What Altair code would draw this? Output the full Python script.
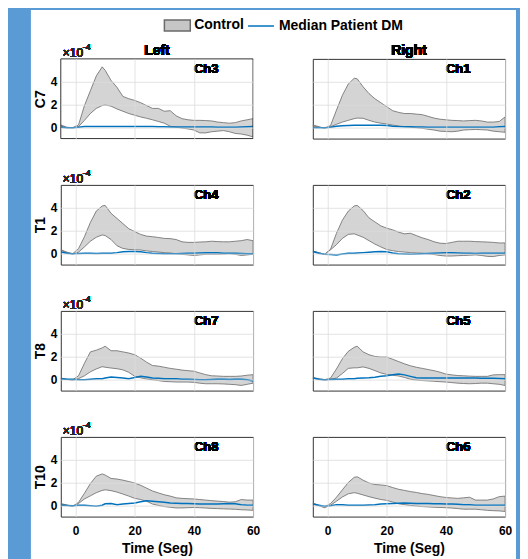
import altair as alt
import pandas as pd

# ---------------- data (values in units of 1e-4) ----------------
time = [-5, -3, -1, 1, 3, 5, 7, 9, 10, 12, 14, 16, 18, 20, 22, 24, 26, 28, 30,
        32, 34, 36, 38, 40, 42, 44, 46, 48, 50, 52, 54, 56, 58, 60]

rows = ["C7", "T1", "T8", "T10"]
sides = ["Left", "Right"]
channels = [["Ch3", "Ch1"], ["Ch4", "Ch2"], ["Ch7", "Ch5"], ["Ch8", "Ch6"]]
legend_labels = ["Control", "Median Patient DM"]
x_ticks = [0, 20, 40, 60]
y_ticks = [0, 2, 4]
x_title = "Time (Seg)"
exp_base = "×10"
exp_power = "-4"

ch3_upper = [0.2, 0.0, -0.05, 0.2, 1.9, 3.2, 4.5, 5.3, 5.0, 4.1, 3.5, 2.7, 2.5, 2.35, 2.15, 1.9, 1.65, 1.65, 1.4,
             1.45, 1.0, 0.75, 0.65, 0.6, 0.6, 0.58, 0.55, 0.45, 0.4, 0.35, 0.4, 0.55, 0.65, 0.75]
ch3_lower = [0.1, -0.05, -0.08, 0.05, 0.6, 1.2, 1.65, 1.9, 1.95, 1.85, 1.6, 1.4, 1.2, 1.05, 0.9, 0.78, 0.65, 0.5, 0.35,
             0.08, 0.0, -0.08, -0.15, -0.25, -0.5, -0.5, -0.4, -0.35, -0.3, -0.4, -0.55, -0.6, -0.7, -0.85]
ch3_median = [0.0, -0.05, -0.05, 0.0, 0.05, 0.05, 0.06, 0.06, 0.06, 0.06, 0.06, 0.06, 0.06, 0.06, 0.06, 0.05, 0.05, 0.04, 0.03,
              0.02, 0.02, 0.02, 0.02, 0.02, 0.02, 0.02, 0.02, 0.0, 0.0, 0.0, 0.0, 0.02, 0.04, 0.05]

ch1_upper = [0.2, 0.05, -0.1, 0.15, 1.5, 2.8, 3.8, 4.3, 4.25, 3.55, 2.95, 2.5, 2.15, 1.8, 1.45, 1.3, 1.2, 1.2, 1.15,
             1.1, 0.95, 0.8, 0.7, 0.65, 0.6, 0.58, 0.55, 0.58, 0.6, 0.55, 0.45, 0.45, 0.5, 0.9]
ch1_lower = [0.1, 0.0, -0.1, 0.05, 0.25, 0.45, 0.6, 0.75, 0.8, 0.78, 0.6, 0.45, 0.35, 0.28, 0.18, 0.1, 0.05, 0.0, -0.05,
             -0.1, -0.18, -0.25, -0.35, -0.38, -0.4, -0.35, -0.25, -0.22, -0.2, -0.22, -0.25, -0.35, -0.4, -0.45]
ch1_median = [-0.05, -0.05, -0.05, 0.0, 0.08, 0.12, 0.15, 0.17, 0.17, 0.17, 0.17, 0.17, 0.16, 0.15, 0.08, 0.05, 0.04, 0.03, 0.02,
              0.01, 0.0, 0.0, 0.0, 0.0, 0.0, 0.0, 0.0, 0.0, 0.0, 0.0, 0.0, 0.0, 0.03, 0.05]

ch4_upper = [0.3, 0.1, -0.05, 0.4, 1.45, 2.7, 3.7, 4.15, 4.2, 3.5, 3.05, 2.6, 2.15, 1.9, 1.65, 1.5, 1.45, 1.38, 1.3,
             1.28, 1.2, 1.0, 0.95, 0.95, 0.98, 1.0, 1.05, 1.02, 1.0, 1.0, 1.05, 1.1, 1.2, 1.1]
ch4_lower = [0.25, 0.05, -0.1, 0.1, 0.55, 1.05, 1.4, 1.6, 1.55, 1.2, 0.65, 0.42, 0.33, 0.3, 0.28, 0.2, 0.15, 0.1, 0.05,
             0.02, -0.05, -0.1, -0.15, -0.2, -0.15, -0.1, -0.1, -0.1, -0.08, -0.05, -0.1, -0.2, -0.15, -0.1]
ch4_median = [0.1, 0.0, -0.05, -0.02, 0.0, 0.0, -0.02, 0.0, 0.0, 0.0, 0.05, 0.12, 0.15, 0.15, 0.12, 0.05, 0.0, -0.02, -0.05,
              -0.05, -0.05, -0.03, 0.0, 0.0, 0.02, 0.03, 0.05, 0.03, 0.0, 0.0, 0.0, -0.02, -0.05, -0.05]

ch2_upper = [0.2, 0.05, -0.1, 0.35, 1.75, 2.9, 3.7, 4.15, 4.2, 3.75, 3.1, 2.75, 2.4, 2.2, 2.05, 1.85, 1.7, 1.75, 1.55,
             1.35, 1.2, 1.0, 0.88, 0.85, 0.95, 1.05, 1.05, 1.05, 1.02, 1.0, 0.98, 0.95, 0.9, 0.9]
ch2_lower = [0.15, 0.02, -0.1, 0.3, 0.75, 1.3, 1.65, 1.7, 1.6, 1.4, 1.1, 0.8, 0.55, 0.32, 0.22, 0.14, 0.1, 0.05, 0.02,
             0.0, -0.05, -0.12, -0.2, -0.25, -0.25, -0.22, -0.2, -0.18, -0.15, -0.2, -0.28, -0.3, -0.2, -0.15]
ch2_median = [0.15, 0.0, -0.1, -0.12, -0.15, -0.08, 0.0, 0.0, 0.02, 0.05, 0.08, 0.12, 0.15, 0.12, 0.02, -0.05, -0.08, -0.1, -0.08,
              -0.05, -0.02, 0.0, 0.02, 0.03, 0.03, 0.02, 0.0, 0.0, -0.02, 0.0, 0.0, 0.0, 0.0, 0.0]

ch7_upper = [0.1, 0.0, -0.05, 0.3, 1.4, 2.4, 2.55, 2.75, 2.9, 2.5, 2.5, 2.4, 2.3, 2.15, 1.85, 1.5, 1.2, 1.15, 1.05,
             0.95, 0.88, 0.8, 0.75, 0.7, 0.55, 0.4, 0.3, 0.28, 0.25, 0.25, 0.25, 0.28, 0.35, 0.4]
ch7_lower = [0.05, -0.02, -0.1, 0.05, 0.3, 0.65, 0.9, 1.1, 1.05, 0.98, 0.92, 0.82, 0.6, 0.25, 0.12, 0.02, -0.05, -0.12, -0.2,
             -0.22, -0.25, -0.25, -0.25, -0.28, -0.35, -0.4, -0.4, -0.4, -0.42, -0.45, -0.48, -0.55, -0.45, -0.35]
ch7_median = [0.05, 0.0, 0.0, -0.05, -0.05, 0.0, 0.03, 0.05, 0.1, 0.2, 0.15, 0.1, 0.05, 0.15, 0.25, 0.2, 0.1, 0.08, 0.05,
              0.05, 0.03, 0.0, 0.0, -0.02, -0.05, -0.05, -0.02, 0.0, 0.0, -0.02, 0.0, 0.0, -0.05, -0.15]

ch5_upper = [0.15, 0.05, -0.05, 0.1, 0.9, 1.8, 2.45, 2.8, 2.9, 2.4, 2.15, 2.0, 1.95, 1.95, 1.75, 1.55, 1.35, 1.18, 1.05,
             0.95, 0.85, 0.75, 0.62, 0.45, 0.38, 0.32, 0.3, 0.27, 0.25, 0.25, 0.25, 0.38, 0.4, 0.4]
ch5_lower = [0.1, 0.0, -0.1, 0.0, 0.1, 0.5, 0.95, 1.0, 1.0, 1.08, 0.95, 0.75, 0.55, 0.42, 0.35, 0.28, 0.15, 0.0, -0.08,
             -0.12, -0.15, -0.18, -0.22, -0.25, -0.3, -0.35, -0.38, -0.4, -0.38, -0.35, -0.35, -0.4, -0.45, -0.55]
ch5_median = [0.1, 0.0, -0.05, -0.02, 0.0, 0.0, 0.03, 0.05, 0.08, 0.1, 0.13, 0.18, 0.25, 0.3, 0.4, 0.45, 0.38, 0.25, 0.12,
              0.1, 0.1, 0.1, 0.1, 0.1, 0.1, 0.1, 0.1, 0.1, 0.1, 0.08, 0.08, 0.08, 0.06, 0.05]

ch8_upper = [0.15, 0.02, -0.1, 0.25, 1.05, 1.9, 2.55, 2.75, 2.65, 2.35, 2.3, 2.2, 2.08, 1.95, 1.75, 1.5, 1.25, 1.08, 0.92,
             0.8, 0.65, 0.6, 0.57, 0.55, 0.5, 0.45, 0.4, 0.36, 0.32, 0.27, 0.3, 0.5, 0.45, 0.45]
ch8_lower = [0.1, 0.0, -0.12, 0.15, 0.55, 0.82, 1.1, 1.3, 1.35, 1.28, 1.15, 0.98, 0.8, 0.6, 0.5, 0.35, 0.1, -0.02, -0.12,
             -0.18, -0.24, -0.24, -0.22, -0.2, -0.22, -0.25, -0.28, -0.3, -0.32, -0.34, -0.36, -0.4, -0.42, -0.45]
ch8_median = [0.0, -0.02, -0.05, 0.0, 0.0, -0.05, -0.1, 0.0, 0.12, 0.15, 0.05, 0.1, 0.15, 0.2, 0.3, 0.4, 0.35, 0.3, 0.25,
              0.2, 0.18, 0.15, 0.15, 0.12, 0.1, 0.1, 0.1, 0.1, 0.12, 0.15, 0.12, 0.05, 0.0, 0.0]

ch6_upper = [0.2, 0.0, -0.15, 0.15, 0.7, 1.35, 2.0, 2.45, 2.5, 2.2, 1.95, 1.82, 1.78, 1.72, 1.55, 1.4, 1.3, 1.2, 1.12,
             1.02, 0.95, 0.85, 0.75, 0.68, 0.64, 0.6, 0.65, 0.7, 0.45, 0.45, 0.45, 0.55, 0.75, 0.8]
ch6_lower = [0.1, -0.05, -0.22, 0.0, 0.35, 0.72, 1.0, 1.1, 1.05, 0.9, 0.75, 0.62, 0.5, 0.42, 0.28, 0.12, 0.05, -0.02, -0.08,
             -0.12, -0.15, -0.18, -0.2, -0.22, -0.25, -0.3, -0.35, -0.35, -0.35, -0.4, -0.45, -0.48, -0.5, -0.55]
ch6_median = [0.1, 0.0, -0.1, -0.05, 0.05, 0.03, 0.0, 0.0, 0.0, 0.0, 0.02, 0.05, 0.1, 0.12, 0.15, 0.18, 0.2, 0.18, 0.15,
              0.15, 0.15, 0.12, 0.12, 0.1, 0.1, 0.08, 0.05, 0.03, 0.0, 0.0, 0.0, 0.0, 0.0, 0.0]

series = {
    "Ch3": (ch3_upper, ch3_lower, ch3_median), "Ch1": (ch1_upper, ch1_lower, ch1_median),
    "Ch4": (ch4_upper, ch4_lower, ch4_median), "Ch2": (ch2_upper, ch2_lower, ch2_median),
    "Ch7": (ch7_upper, ch7_lower, ch7_median), "Ch5": (ch5_upper, ch5_lower, ch5_median),
    "Ch8": (ch8_upper, ch8_lower, ch8_median), "Ch6": (ch6_upper, ch6_lower, ch6_median),
}

# ---------------- style ----------------
FONT = "Liberation Sans"
BAND_FILL = "#c6c6c6"
BAND_EDGE = "#6a6a6a"
LINE_BLUE = "#0072BD"
GRID = "#dcdcdc"
FRAME = "#333333"
PW, PH = 193, 80
ROW_GAP = 46.5
COL_GAP = 60

xscale = alt.Scale(domain=[-5, 60], nice=False, zero=False)
yscale = alt.Scale(domain=[-1, 6], nice=False, zero=False)
fill_scale = alt.Scale(domain=[legend_labels[0]], range=[BAND_FILL])
stroke_scale = alt.Scale(domain=[legend_labels[1]], range=[LINE_BLUE])

fill_legend = alt.Legend(
    orient="none", legendX=106, legendY=-44.5, title=None, padding=0,
    symbolType="M-1.3,-0.55H1.3V0.55H-1.3Z", symbolSize=400,
    labelFont=FONT, labelFontSize=14, labelFontWeight="bold", labelColor="black",
    labelOffset=6, zindex=1)
stroke_legend = alt.Legend(
    orient="none", legendX=187, legendY=-47, title=None, padding=0,
    symbolType="stroke", symbolSize=676, symbolStrokeWidth=1.5,
    labelFont=FONT, labelFontSize=14, labelFontWeight="bold", labelColor="black",
    labelOffset=4, zindex=1)

sheet_df = pd.DataFrame({"k": [0]})


def panel(r, c):
    ch = channels[r][c]
    up, lo, med = series[ch]
    df = pd.DataFrame({"t": time, "upper": up, "lower": lo, "median": med,
                       "band": legend_labels[0], "patient": legend_labels[1]})
    bottom = r == len(rows) - 1
    left = c == 0

    xaxis = alt.Axis(values=x_ticks, tickCount=8, grid=True, gridColor=GRID, gridWidth=0.8,
                     ticks=False, domain=False, labels=bottom, labelFlush=False, labelOverlap=False,
                     labelFont=FONT, labelFontSize=12, labelFontWeight="bold", labelColor="black",
                     labelPadding=9,
                     title=x_title if bottom else None,
                     titleFont=FONT, titleFontSize=14, titleFontWeight="bold", titleColor="black",
                     titlePadding=5, zindex=1)
    yaxis = alt.Axis(values=y_ticks, tickCount=8, grid=True, gridColor=GRID, gridWidth=0.8,
                     ticks=False, domain=False, labels=left, labelOverlap=False,
                     labelFont=FONT, labelFontSize=12, labelFontWeight="bold", labelColor="black",
                     labelPadding=4,
                     title=rows[r] if left else None,
                     titleFont=FONT, titleFontSize=14, titleFontWeight="bold", titleColor="black",
                     titlePadding=3, zindex=1)
    X = alt.X("t:Q", scale=xscale, axis=xaxis)

    def xd(v):
        return alt.XDatum(v, type="quantitative", scale=xscale, axis=xaxis)

    def yd(v):
        return alt.YDatum(v, type="quantitative", scale=yscale, axis=yaxis)

    base = alt.Chart(df)
    area = base.mark_area(stroke=BAND_EDGE, strokeWidth=0.8, fillOpacity=0.75, clip=True).encode(
        x=X,
        y=alt.Y("upper:Q", scale=yscale, axis=yaxis),
        y2="lower:Q",
        fill=alt.Fill("band:N", scale=fill_scale, legend=fill_legend),
    )
    line = base.mark_line(strokeWidth=1.5, clip=True).encode(
        x=X, y=alt.Y("median:Q", scale=yscale, axis=yaxis),
        stroke=alt.Stroke("patient:N", scale=stroke_scale, legend=stroke_legend),
    )
    label = base.mark_text(text=ch, align="left", baseline="alphabetic", font=FONT, fontSize=13,
                           fontWeight="bold", color="black", dx=0, dy=14).encode(x=xd(40), y=yd(6))
    layers = [area, line, label]
    if left:
        e1 = base.mark_text(text=exp_base, align="left", baseline="alphabetic", font=FONT, fontSize=12,
                            color="#262626", dx=2, dy=-2).encode(x=xd(-5), y=yd(6))
        e2 = base.mark_text(text=exp_power, align="left", baseline="alphabetic", font=FONT, fontSize=9,
                            color="#262626", dx=22, dy=-9).encode(x=xd(-5), y=yd(6))
        layers += [e1, e2]
    if r == 0:
        ttl = base.mark_text(text=sides[c], align="center", baseline="alphabetic", font=FONT, fontSize=14,
                             fontWeight="bold", color="black", dy=-4).encode(x=xd(27.5), y=yd(6))
        layers.append(ttl)
    if r == 0 and c == 0:
        # white page sheet behind everything (first mark drawn), frame redrawn on top of it
        sheet = alt.Chart(sheet_df).mark_rect(color="white").encode(
            x=alt.value(-30), x2=alt.value(457), y=alt.value(-49), y2=alt.value(502))
        frame = alt.Chart(sheet_df).mark_rect(fillOpacity=0, stroke=FRAME, strokeWidth=1).encode(
            x=alt.value(0), x2=alt.value(PW), y=alt.value(0), y2=alt.value(PH))
        layers = [sheet] + layers + [frame]
    return alt.layer(*layers).properties(width=PW, height=PH)


cells = []
for r in range(len(rows)):
    for c in range(2):
        cells.append(panel(r, c))

chart = alt.concat(*cells, columns=2, bounds="flush",
                   spacing={"row": ROW_GAP, "column": COL_GAP}).properties(
    padding={"left": 22, "top": 0, "right": 3, "bottom": 0}
).configure(background="#5B9BD5", font=FONT).configure_view(
    stroke=FRAME, strokeWidth=1
)

chart.save("out.html", embed_options={"renderer": "svg", "actions": False})
